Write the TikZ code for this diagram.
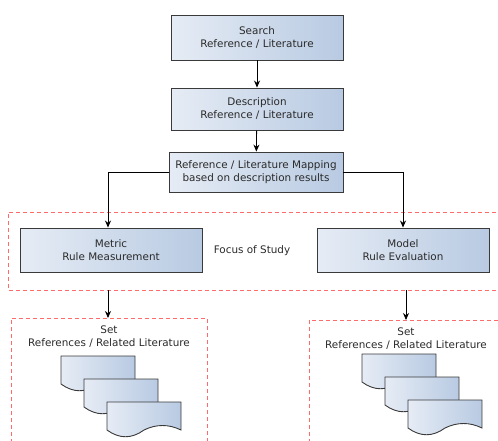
\documentclass[tikz,border=0pt]{standalone}
\usepackage{fontspec}
\setmainfont{DejaVu Sans}
\usetikzlibrary{arrows.meta}
\definecolor{boxl}{HTML}{E6ECF5}
\definecolor{boxr}{HTML}{B8CAE2}
\definecolor{edge}{HTML}{3A3A3A}
\definecolor{txt}{HTML}{2A2A2A}
\definecolor{reddash}{HTML}{FF6B6B}
\tikzset{
  procbox/.style={draw=edge, line width=0.9pt, left color=boxl, right color=boxr,
    align=center, font=\fontsize{10.4}{13}\selectfont, text=txt, inner sep=0pt},
  flow/.style={draw=black, line width=0.8pt, -{Stealth[length=7pt,width=6pt]}},
  region/.style={draw=reddash, line width=0.9pt, dash pattern=on 4pt off 3pt},
  lbl/.style={align=center, font=\fontsize{10.4}{13}\selectfont, text=txt, inner sep=0pt},
  docshape/.style={draw=edge, line width=0.9pt, left color=boxl, right color=boxr}
}
\newcommand{\docpath}[2]{%
  \path[docshape] (#1,#2) -- ++(74,0) -- ++(0,28)
    .. controls ++(-12.3,-6) and ++(12.3,-6) .. ++(-37,0)
    .. controls ++(-12.3,9) and ++(12.3,9) .. ++(-37,0) -- cycle;}
\begin{document}
\begin{tikzpicture}[x=1pt,y=-1pt]
\useasboundingbox (0,0) rectangle (498,440);
\clip (0,0) rectangle (498,440);
% regions
\draw[region] (510,212) -- (8,212) -- (8,290) -- (510,290);
\draw[region] (11,450) -- (11,318) -- (207,318) -- (207,450);
\draw[region] (309,450) -- (309,320) -- (510,320);
% boxes
\node[procbox, minimum width=172pt, minimum height=45pt] (search) at (257,37.5) {Search\\Reference / Literature};
\node[procbox, minimum width=172pt, minimum height=42pt] (desc) at (257,109) {Description\\Reference / Literature};
\node[procbox, minimum width=174pt, minimum height=40pt] (map) at (256,172) {Reference / Literature Mapping\\based on description results};
\node[procbox, minimum width=182pt, minimum height=44pt] (metric) at (111,250) {Metric\\Rule Measurement};
\node[procbox, minimum width=172pt, minimum height=44pt] (model) at (403,250) {Model\\Rule Evaluation};
\node[lbl] (focus) at (252,251) {Focus of Study};
% set labels
\node[lbl] (setl) at (109,337) {Set\\References / Related Literature};
\node[lbl] (setr) at (406,339) {Set\\References / Related Literature};
\coordinate (setlt) at (108,318);
\coordinate (setrt) at (406,320);
\coordinate (focb) at (108,290);
\coordinate (focbr) at (406,290);
% documents
\docpath{61}{356}
\docpath{84}{379}
\docpath{107}{402}
\docpath{362}{354}
\docpath{385}{377}
\docpath{408}{400}
% connectors
\draw[flow] (search) -- (desc);
\draw[flow] (desc) -- (map);
\draw[flow] (map.west) -| (metric.north -| 108,0);
\draw[flow] (map.east) -| (model.north);
\draw[flow] (focb) -- (setlt);
\draw[flow] (focbr) -- (setrt);
\end{tikzpicture}
\end{document}
